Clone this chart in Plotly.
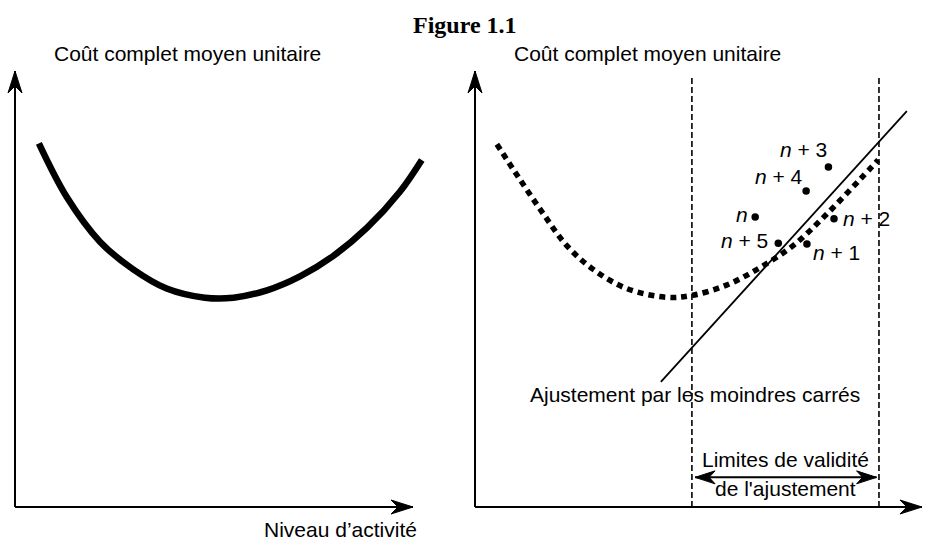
import plotly.graph_objects as go

# ---------------- data (activity units on x, cost units on y) ----------------
# Left panel: full average unit cost curve
activity_left = [6.0, 13.0, 21.4, 29.7, 38.1, 47.7, 54.9, 63.3, 71.6, 80.0, 88.4, 96.7, 102.2]
cost_left = [83.4, 71.1, 60.8, 54.5, 50.1, 48.0, 48.0, 49.7, 52.9, 57.6, 64.0, 72.3, 79.6]

# Right panel: same (true) cost curve, drawn dotted
activity_right = [5.5, 11.3, 17.2, 23.0, 29.7, 38.1, 48.2, 54.3, 63.2, 71.6, 80.0, 88.4, 96.7, 101.3]
cost_right = [83.2, 75.1, 67.2, 60.0, 54.5, 50.1, 48.1, 48.5, 50.9, 54.9, 60.0, 67.2, 75.1, 79.6]

# Least-squares fitted line (end points)
fit_activity = [46.7, 108.5]
fit_cost = [28.7, 90.8]

# Observations
obs_labels = ["<i>n</i>", "<i>n</i> + 1", "<i>n</i> + 2", "<i>n</i> + 3", "<i>n</i> + 4", "<i>n</i> + 5"]
obs_activity = [70.4, 83.4, 90.2, 88.8, 83.2, 76.2]
obs_cost = [66.5, 60.3, 66.1, 78.0, 72.5, 60.5]

# Limits of validity of the fit
validity_limits = [54.5, 101.5]

# Axis extents
y_axis_top = 100.0
x_axis_end_left = 100.0
x_axis_end_right = 112.3

# ---------------- layout calibration ----------------
W, H = 929, 543
ORIGIN_X_LEFT, ORIGIN_X_RIGHT, ORIGIN_Y = 15.0, 475.0, 507.0
PX_X, PX_Y = 3.98, 4.36
SPLIT = 464.5

FONT = "Liberation Sans, Arial, Helvetica, sans-serif"
FS = 21

fig = go.Figure()

fig.add_trace(go.Scatter(
    x=activity_left, y=cost_left, mode="lines", xaxis="x", yaxis="y",
    line=dict(color="black", width=6.5, shape="spline", smoothing=1.0),
    hoverinfo="skip"))

fig.add_trace(go.Scatter(
    x=activity_right, y=cost_right, mode="lines", xaxis="x2", yaxis="y",
    line=dict(color="black", width=5.5, shape="spline", smoothing=1.0, dash="6px,5px"),
    hoverinfo="skip"))

fig.add_trace(go.Scatter(
    x=fit_activity, y=fit_cost, mode="lines", xaxis="x2", yaxis="y",
    line=dict(color="black", width=1.8), hoverinfo="skip"))

for xv in validity_limits:
    fig.add_trace(go.Scatter(
        x=[xv, xv], y=[0, 98.9], mode="lines", xaxis="x2", yaxis="y",
        line=dict(color="black", width=1.6, dash="6px,3px"), hoverinfo="skip"))

fig.add_trace(go.Scatter(
    x=obs_activity, y=obs_cost, mode="markers", xaxis="x2", yaxis="y",
    marker=dict(color="black", size=7.5), hoverinfo="skip"))

shapes = []


def head_path(xt, yt, direction, length, half, notch):
    """Filled notched arrowhead; sizes in px converted to data units."""
    lx, hx, nx = length / PX_X, half / PX_X, notch / PX_X
    ly, hy, ny = length / PX_Y, half / PX_Y, notch / PX_Y
    if direction == "up":
        pts = [(xt, yt), (xt + hx, yt - ly), (xt, yt - ny), (xt - hx, yt - ly)]
    elif direction == "right":
        pts = [(xt, yt), (xt - lx, yt + hy), (xt - nx, yt), (xt - lx, yt - hy)]
    else:  # left
        pts = [(xt, yt), (xt + lx, yt + hy), (xt + nx, yt), (xt + lx, yt - hy)]
    return "M " + " L ".join(f"{a:.3f},{b:.3f}" for a, b in pts) + " Z"


def axis_with_head(xref, x0, y0, x1, y1, direction):
    shapes.append(dict(type="line", xref=xref, yref="y", x0=x0, y0=y0, x1=x1, y1=y1,
                       line=dict(color="black", width=2)))
    shapes.append(dict(type="path", xref=xref, yref="y",
                       path=head_path(x1, y1, direction, 22, 7, 15),
                       fillcolor="black", line=dict(color="black", width=1)))


axis_with_head("x", 0, 0, 0, y_axis_top, "up")
axis_with_head("x", 0, 0, x_axis_end_left, 0, "right")
axis_with_head("x2", 0, 0, 0, y_axis_top, "up")
axis_with_head("x2", 0, 0, x_axis_end_right, 0, "right")

# validity double arrow
arrow_y = 6.8
xa, xb = validity_limits[0] + 0.8, validity_limits[1] - 0.6
shapes.append(dict(type="line", xref="x2", yref="y", x0=xa, y0=arrow_y, x1=xb, y1=arrow_y,
                   line=dict(color="black", width=2)))
shapes.append(dict(type="path", xref="x2", yref="y", path=head_path(xb, arrow_y, "right", 20, 6.5, 14),
                   fillcolor="black", line=dict(color="black", width=1)))
shapes.append(dict(type="path", xref="x2", yref="y", path=head_path(xa, arrow_y, "left", 20, 6.5, 14),
                   fillcolor="black", line=dict(color="black", width=1)))

annotations = []


def txt(text, xref, x, y, xanchor="center", size=FS, **kw):
    d = dict(text=text, xref=xref, yref="y", x=x, y=y, xanchor=xanchor,
             yanchor="middle", showarrow=False,
             font=dict(family=FONT, size=size, color="black"))
    d.update(kw)
    annotations.append(d)


txt("Coût complet moyen unitaire", "x", 9.4, 104.0, xanchor="left")
txt("Coût complet moyen unitaire", "x2", 9.4, 104.0, xanchor="left")
txt("Niveau d’activité", "x", 101.6, -5.1, xanchor="right")
txt("Niveau d’activité", "x2", 114.4, -5.1, xanchor="right")
txt("Ajustement par les moindres carrés", "x2", 55.3, 25.9)
txt("Limites de validité", "x2", 77.9, 10.8)
txt("de l'ajustement", "x2", 78.1, 4.3)

# observation labels (anchor, xshift, yshift in px)
label_offsets = [("right", -5, 3), ("left", 4, -8), ("left", 7, 0),
                 ("right", 1, 17), ("right", -1, 14), ("right", -8, 3)]
for lab, xv, yv, (anc, dx, dy) in zip(obs_labels, obs_activity, obs_cost, label_offsets):
    txt(lab, "x2", xv, yv, xanchor=anc, xshift=dx, yshift=dy)

# title
annotations.append(dict(
    text="<b>Figure 1.1</b>", xref="paper", yref="paper", x=465 / W, y=1 - 25 / H,
    xanchor="center", yanchor="middle", showarrow=False,
    font=dict(family="Liberation Serif, Times New Roman, serif", size=24, color="black")))

fig.update_layout(
    width=W, height=H, margin=dict(l=0, r=0, t=0, b=0),
    paper_bgcolor="white", plot_bgcolor="white", showlegend=False,
    xaxis=dict(domain=[0, SPLIT / W], range=[-ORIGIN_X_LEFT / PX_X, (SPLIT - ORIGIN_X_LEFT) / PX_X],
               visible=False, fixedrange=True),
    xaxis2=dict(domain=[SPLIT / W, 1], range=[(SPLIT - ORIGIN_X_RIGHT) / PX_X, (W - ORIGIN_X_RIGHT) / PX_X],
                visible=False, anchor="y", fixedrange=True),
    yaxis=dict(domain=[0, 1], range=[(ORIGIN_Y - H) / PX_Y, ORIGIN_Y / PX_Y],
               visible=False, fixedrange=True),
    shapes=shapes,
    annotations=annotations,
)

fig.write_html("out.html", config={"displayModeBar": False},
               post_script="document.body.style.margin='0';")
